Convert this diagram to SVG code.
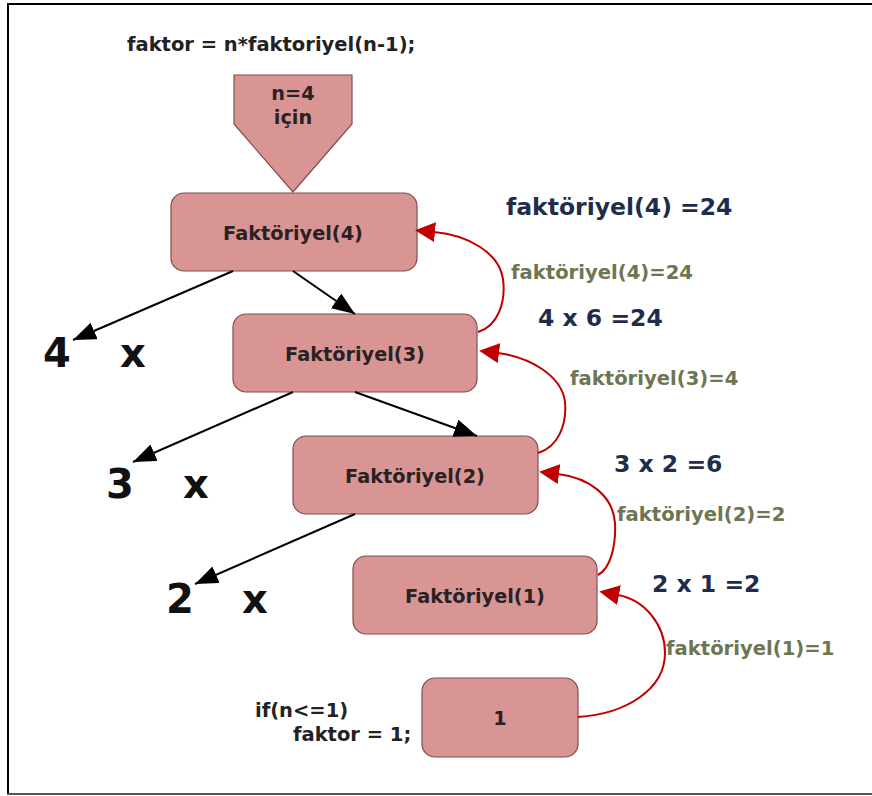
<svg xmlns="http://www.w3.org/2000/svg" width="872" height="796" viewBox="0 0 872 796">
  <style>
    text { font-family: "DejaVu Sans", Verdana, sans-serif; font-weight: bold; }
    .code { font-size: 19.5px; fill: #222222; }
    .box { fill: #D99594; stroke: #7E4E4E; stroke-width: 1.2; }
    .lbl { font-size: 19.3px; fill: #2A2222; text-anchor: middle; }
    .big { font-size: 40px; fill: #111111; }
    .res { font-size: 23.5px; fill: #1F2D4D; }
    .ret { font-size: 19.6px; fill: #6E7553; }
    .call { stroke: #000000; stroke-width: 2; fill: none; marker-end: url(#blackHead); }
    .back { stroke: #C00000; stroke-width: 2; fill: none; marker-end: url(#redHead); }
  </style>
  <defs>
    <marker id="blackHead" markerUnits="userSpaceOnUse" markerWidth="26" markerHeight="20" refX="23" refY="9" orient="auto">
      <path d="M0,0 L23,9 L0,18 Z" fill="#000000"/>
    </marker>
    <marker id="redHead" markerUnits="userSpaceOnUse" markerWidth="22" markerHeight="22" refX="1" refY="10" orient="auto">
      <path d="M0,0 L20,10 L0,20 Z" fill="#C00000"/>
    </marker>
  </defs>

  <rect x="0" y="0" width="872" height="796" fill="#FFFFFF"/>
  <!-- frame -->
  <g id="frame">
    <line x1="8" y1="3" x2="8" y2="795" stroke="#000000" stroke-width="2"/>
    <line x1="7" y1="4" x2="872" y2="4" stroke="#000000" stroke-width="2"/>
    <line x1="7" y1="794" x2="872" y2="794" stroke="#555555" stroke-width="2"/>
  </g>

  <!-- source lines -->
  <g id="code-recursive">
    <text class="code" x="127" y="51">faktor = n*faktoriyel(n-1);</text>
  </g>
  <g id="code-base">
    <text class="code" x="255" y="717" font-size="20.3">if(n&lt;=1)</text>
    <text class="code" x="293" y="741">faktor = 1;</text>
  </g>

  <!-- entry marker -->
  <g id="input">
    <polygon class="box" points="234,75 352,75 352,124 293,192 234,124"/>
    <text class="lbl" x="293" y="100">n=4</text>
    <text class="lbl" x="293" y="124">için</text>
  </g>

  <!-- call boxes -->
  <g id="f4">
    <rect class="box" x="171" y="193" width="246" height="78" rx="13"/>
    <text class="lbl" x="293" y="240">Faktöriyel(4)</text>
  </g>
  <g id="f3">
    <rect class="box" x="233" y="314" width="244" height="78" rx="13"/>
    <text class="lbl" x="355" y="361">Faktöriyel(3)</text>
  </g>
  <g id="f2">
    <rect class="box" x="293" y="436" width="245" height="78" rx="13"/>
    <text class="lbl" x="415" y="483">Faktöriyel(2)</text>
  </g>
  <g id="f1">
    <rect class="box" x="353" y="556" width="244" height="78" rx="13"/>
    <text class="lbl" x="475" y="603">Faktöriyel(1)</text>
  </g>
  <g id="base">
    <rect class="box" x="422" y="678" width="156" height="79" rx="13"/>
    <text class="lbl" x="500" y="725">1</text>
  </g>

  <!-- multiplier terms -->
  <g id="term4">
    <text class="big" x="43" y="367">4</text>
    <text class="big" x="120" y="367">x</text>
  </g>
  <g id="term3">
    <text class="big" x="106" y="498">3</text>
    <text class="big" x="183" y="498">x</text>
  </g>
  <g id="term2">
    <text class="big" x="166" y="613">2</text>
    <text class="big" x="242" y="613">x</text>
  </g>

  <!-- results -->
  <g id="results">
    <text class="res" x="506" y="215">faktöriyel(4) =24</text>
    <text class="res" x="538" y="326">4 x 6 =24</text>
    <text class="res" x="614" y="472">3 x 2 =6</text>
    <text class="res" x="652" y="592">2 x 1 =2</text>
    <text class="ret" x="511" y="279">faktöriyel(4)=24</text>
    <text class="ret" x="570" y="385">faktöriyel(3)=4</text>
    <text class="ret" x="617" y="521">faktöriyel(2)=2</text>
    <text class="ret" x="666" y="655">faktöriyel(1)=1</text>
  </g>

  <!-- connectors -->
  <g id="connectors">
    <path class="call" d="M233,271 L73,340"/>
    <path class="call" d="M293,271 L355,314"/>
    <path class="call" d="M293,392 L133,462"/>
    <path class="call" d="M355,392 L477,436"/>
    <path class="call" d="M355,514 L195,584"/>

    <path class="back" d="M478,332 C498,326 506,302 503,279 C499,252 467,235 434,232"/>
    <path class="back" d="M538,453 C558,447 567,425 565,402 C562,376 530,357 498,353"/>
    <path class="back" d="M598,575 C611,568 616,545 615,523 C613,496 590,478 558,474"/>
    <path class="back" d="M578,717 C625,714 665,690 665,653 C665,625 645,600 618,595"/>
  </g>
</svg>
